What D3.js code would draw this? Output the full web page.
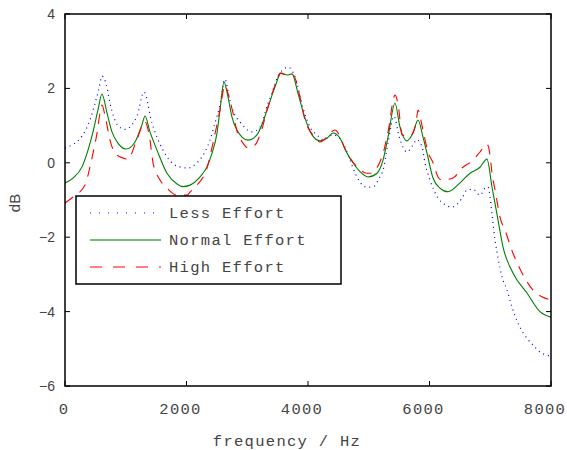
<!DOCTYPE html>
<html>
<head>
<meta charset="utf-8">
<script src="https://cdn.jsdelivr.net/npm/d3@7"></script>
<style>
  body { margin: 0; background: #fff; }
</style>
</head>
<body>
<script>
"use strict"

// values
var seriesNames = ["Less Effort", "Normal Effort", "High Effort"];
var xTicks = [0, 2000, 4000, 6000, 8000];
var yTicks = [4, 2, 0, -2, -4, -6];

var lessFreq = [0, 280, 411, 494, 560, 609, 680, 741, 872, 988, 1185, 1300, 1432, 1613, 1860, 2025, 2173, 2255, 2387, 2469, 2551, 2634, 2700, 2780, 2881, 3078, 3210, 3342, 3407, 3500, 3671, 3786, 3918, 4033, 4148, 4250, 4411, 4550, 4691, 4741, 4856, 4971, 5086, 5169, 5235, 5317, 5416, 5498, 5630, 5728, 5790, 5877, 5925, 6008, 6140, 6239, 6370, 6436, 6535, 6617, 6716, 6831, 6913, 6963, 6996, 7029, 7079, 7128, 7194, 7276, 7358, 7457, 7605, 7704, 7819, 7934, 8000];
var lessDb = [0.4, 0.72, 1.15, 1.6, 2.0, 2.33, 2.1, 1.6, 1.0, 0.9, 1.26, 1.9, 1.07, 0.34, -0.1, -0.14, 0.0, 0.16, 0.61, 1.07, 1.55, 2.25, 1.77, 1.34, 1.1, 0.83, 0.96, 1.6, 1.87, 2.3, 2.57, 2.31, 1.47, 0.96, 0.75, 0.62, 0.75, 0.6, 0.08, -0.14, -0.52, -0.66, -0.63, -0.42, -0.2, 0.53, 1.25, 0.72, 0.29, 0.48, 0.62, 0.43, 0.0, -0.46, -0.95, -1.11, -1.19, -1.14, -0.95, -0.73, -0.71, -0.87, -0.68, -0.65, -0.9, -1.4, -2.07, -2.56, -3.07, -3.42, -3.88, -4.31, -4.72, -4.9, -5.09, -5.17, -5.2];

var normalFreq = [0, 132, 280, 379, 461, 543, 609, 691, 773, 872, 1004, 1152, 1267, 1317, 1399, 1514, 1679, 1844, 1940, 2058, 2222, 2337, 2420, 2502, 2551, 2617, 2683, 2749, 2831, 2914, 3012, 3160, 3259, 3342, 3457, 3556, 3656, 3737, 3835, 3951, 4066, 4197, 4313, 4411, 4527, 4642, 4741, 4856, 4988, 5136, 5235, 5317, 5432, 5514, 5630, 5728, 5811, 5893, 5959, 6058, 6173, 6305, 6502, 6667, 6831, 6946, 7029, 7128, 7210, 7374, 7605, 7819, 8000];
var normalDb = [-0.54, -0.41, -0.11, 0.34, 0.83, 1.42, 1.85, 1.34, 0.83, 0.53, 0.37, 0.56, 1.02, 1.26, 0.83, 0.34, -0.28, -0.57, -0.64, -0.6, -0.38, -0.11, 0.26, 0.8, 1.42, 2.17, 1.77, 1.23, 0.88, 0.69, 0.61, 0.75, 1.1, 1.5, 2.04, 2.41, 2.36, 2.39, 1.87, 1.2, 0.75, 0.59, 0.66, 0.8, 0.66, 0.26, 0.0, -0.24, -0.38, -0.28, 0.07, 0.69, 1.6, 0.96, 0.59, 0.8, 1.15, 0.69, 0.26, -0.41, -0.68, -0.78, -0.54, -0.28, -0.12, 0.1, -0.65, -1.54, -2.26, -2.96, -3.5, -4.0, -4.15];

var highFreq = [0, 132, 329, 411, 461, 527, 576, 609, 658, 741, 823, 955, 1037, 1169, 1317, 1399, 1449, 1564, 1679, 1844, 2008, 2058, 2140, 2337, 2436, 2551, 2634, 2683, 2765, 2831, 2930, 3012, 3128, 3210, 3342, 3490, 3540, 3656, 3753, 3868, 3951, 4115, 4197, 4444, 4642, 4807, 4971, 5021, 5218, 5317, 5432, 5490, 5547, 5679, 5778, 5811, 5877, 5975, 6058, 6140, 6200, 6387, 6535, 6716, 6831, 6946, 6996, 7029, 7079, 7128, 7160, 7243, 7374, 7523, 7704, 7852, 8000];
var highDb = [-1.08, -0.92, -0.6, -0.11, 0.26, 0.8, 1.34, 1.55, 1.28, 0.61, 0.26, 0.13, 0.1, 0.56, 1.1, 0.61, 0.0, -0.46, -0.68, -0.87, -0.87, -0.79, -0.65, -0.14, 0.53, 1.42, 2.09, 1.87, 1.34, 0.85, 0.53, 0.4, 0.48, 0.75, 1.5, 2.23, 2.41, 2.35, 2.36, 1.77, 1.15, 0.69, 0.56, 0.88, 0.26, -0.11, -0.28, -0.28, 0.16, 0.83, 1.82, 1.5, 0.75, 0.72, 1.07, 1.42, 1.0, 0.29, 0.0, -0.38, -0.46, -0.41, -0.14, 0.07, 0.29, 0.5, 0.21, -0.28, -0.73, -1.19, -1.46, -1.81, -2.43, -2.96, -3.42, -3.6, -3.69];

var W = 567, H = 450;
var plotLeft = 65, plotTop = 14, plotRight = 551, plotBottom = 386;

var svg = d3.select("body").append("svg")
    .attr("width", W)
    .attr("height", H);

var x = d3.scaleLinear().domain([0, 8000]).range([plotLeft, plotRight]);
var y = d3.scaleLinear().domain([-6, 4]).range([plotBottom, plotTop]);

var monoFont = "'Liberation Mono', 'DejaVu Sans Mono', monospace";
var sansFont = "'Liberation Sans', Arial, sans-serif";
var monoSize = 15.5, monoSpacing = 1.3;

// ticks pointing inward on all four sides
var tickLen = 5;
var ticksG = svg.append("g").attr("stroke", "#000").attr("stroke-width", 1);
xTicks.forEach(function (t) {
    ticksG.append("line").attr("x1", x(t)).attr("x2", x(t)).attr("y1", plotBottom).attr("y2", plotBottom - tickLen);
    ticksG.append("line").attr("x1", x(t)).attr("x2", x(t)).attr("y1", plotTop).attr("y2", plotTop + tickLen);
});
yTicks.forEach(function (t) {
    ticksG.append("line").attr("x1", plotLeft).attr("x2", plotLeft + tickLen).attr("y1", y(t)).attr("y2", y(t));
    ticksG.append("line").attr("x1", plotRight).attr("x2", plotRight - tickLen).attr("y1", y(t)).attr("y2", y(t));
});

// tick labels (the long ones sit a little left of their tick, as in the reference)
svg.append("g").selectAll("text").data(xTicks).enter().append("text")
    .attr("x", function (d) { return x(d) - (d === 0 ? 1 : 6); })
    .attr("y", 414)
    .attr("text-anchor", "middle")
    .attr("font-family", monoFont)
    .attr("font-size", monoSize)
    .attr("letter-spacing", monoSpacing)
    .attr("fill", "#444")
    .text(function (d) { return d; });

svg.append("g").selectAll("text").data(yTicks).enter().append("text")
    .attr("x", 55)
    .attr("y", function (d) { return y(d); })
    .attr("dy", "0.35em")
    .attr("text-anchor", "end")
    .attr("font-family", sansFont)
    .attr("font-size", 14)
    .attr("fill", "#444")
    .text(function (d) { return d < 0 ? "\u2212" + Math.abs(d) : d; });

// axis titles
svg.append("text")
    .attr("x", 287)
    .attr("y", 446)
    .attr("text-anchor", "middle")
    .attr("font-family", monoFont)
    .attr("font-size", monoSize)
    .attr("letter-spacing", monoSpacing)
    .attr("fill", "#444")
    .text("frequency / Hz");

svg.append("text")
    .attr("transform", "translate(20," + 203 + ") rotate(-90)")
    .attr("text-anchor", "middle")
    .attr("font-family", sansFont)
    .attr("font-size", 15)
    .attr("fill", "#444")
    .text("dB");

// curves
var styles = [
    { color: "#0000ff", width: 1.2, dash: "1,4" },
    { color: "#007f00", width: 1.1, dash: null },
    { color: "#ff0000", width: 1.1, dash: "10,8" }
];
var allFreq = [lessFreq, normalFreq, highFreq];
var allDb = [lessDb, normalDb, highDb];

var line = d3.line()
    .x(function (d) { return x(d[0]); })
    .y(function (d) { return y(d[1]); })
    .curve(d3.curveMonotoneX);

svg.append("defs").append("clipPath").attr("id", "plotclip")
    .append("rect").attr("x", plotLeft).attr("y", plotTop)
    .attr("width", plotRight - plotLeft).attr("height", plotBottom - plotTop);

var curvesG = svg.append("g").attr("clip-path", "url(#plotclip)");
allFreq.forEach(function (fr, i) {
    var pts = fr.map(function (f, j) { return [f, allDb[i][j]]; });
    curvesG.append("path")
        .datum(pts)
        .attr("d", line)
        .attr("fill", "none")
        .attr("stroke", styles[i].color)
        .attr("stroke-width", styles[i].width)
        .attr("stroke-dasharray", styles[i].dash);
});

// frame
svg.append("rect")
    .attr("x", plotLeft).attr("y", plotTop)
    .attr("width", plotRight - plotLeft).attr("height", plotBottom - plotTop)
    .attr("fill", "none").attr("stroke", "#000").attr("stroke-width", 1.5);

// legend
var legend = svg.append("g");
legend.append("rect")
    .attr("x", 76).attr("y", 196)
    .attr("width", 265).attr("height", 88)
    .attr("fill", "#fff").attr("stroke", "#000").attr("stroke-width", 1.5);

var legendDash = ["1,8", null, "12,11"];
seriesNames.forEach(function (name, i) {
    var ly = 213 + i * 27;
    legend.append("line")
        .attr("x1", 90).attr("x2", 161)
        .attr("y1", ly).attr("y2", ly)
        .attr("stroke", styles[i].color)
        .attr("stroke-opacity", i === 1 ? 0.7 : 1)
        .attr("stroke-width", i === 1 ? 1.4 : 1.2)
        .attr("stroke-dasharray", legendDash[i]);
    legend.append("text")
        .attr("x", 169).attr("y", ly)
        .attr("dy", "0.35em")
        .attr("font-family", monoFont)
        .attr("font-size", monoSize)
        .attr("letter-spacing", monoSpacing)
        .attr("fill", "#444")
        .text(name);
});
</script>
</body>
</html>
